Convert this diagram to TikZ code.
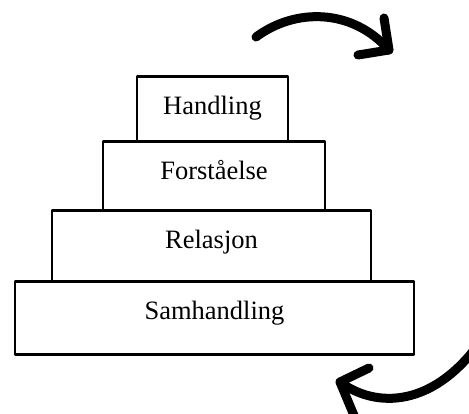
\documentclass[tikz,border=0pt]{standalone}
\usepackage{fontspec}
\setmainfont{Liberation Serif}
\begin{document}
\begin{tikzpicture}[x=1pt,y=-1pt,
  tier/.style={draw=black, line width=2.6pt, line join=round, fill=white,
    anchor=north, inner xsep=0pt, inner ysep=0pt, text height=38pt,
    font=\fontsize{26.5}{30}\selectfont},
  sketcharrow/.style={draw=black, line width=9pt, line cap=round, line join=round}]
\useasboundingbox (0,0) rectangle (469,414);
\clip (0,0) rectangle (469,414);
% tiers (top edge, width, height)
\node[tier, minimum width=399pt, text depth=35pt] (samhandling) at (214.5,280) {Samhandling};
\node[tier, minimum width=319pt, text depth=33pt] (relasjon) at (211.5,209) {Relasjon};
\node[tier, minimum width=222pt, text depth=31pt] (forstaelse) at (214,140) {Forståelse};
\node[tier, minimum width=151pt, text depth=27pt] (handling) at (212.5,75) {Handling};
% top arrow
\coordinate (ta0) at (256,37);
\coordinate (tatip) at (389,50);
\coordinate (taarm1) at (384,18);
\coordinate (taarm2) at (358,55);
\draw[sketcharrow] (ta0) .. controls (295,8) and (352,8) .. (tatip);
\draw[sketcharrow] (taarm1) -- (tatip) -- (taarm2);
% bottom arrow
\coordinate (ba0) at (485,335);
\coordinate (batip) at (340,382);
\coordinate (baarm1) at (369,368);
\coordinate (baarm2) at (358,425);
\draw[sketcharrow] (ba0) .. controls (435,410) and (375,408) .. (batip);
\draw[sketcharrow] (baarm1) -- (batip) -- (baarm2);
\end{tikzpicture}
\end{document}
